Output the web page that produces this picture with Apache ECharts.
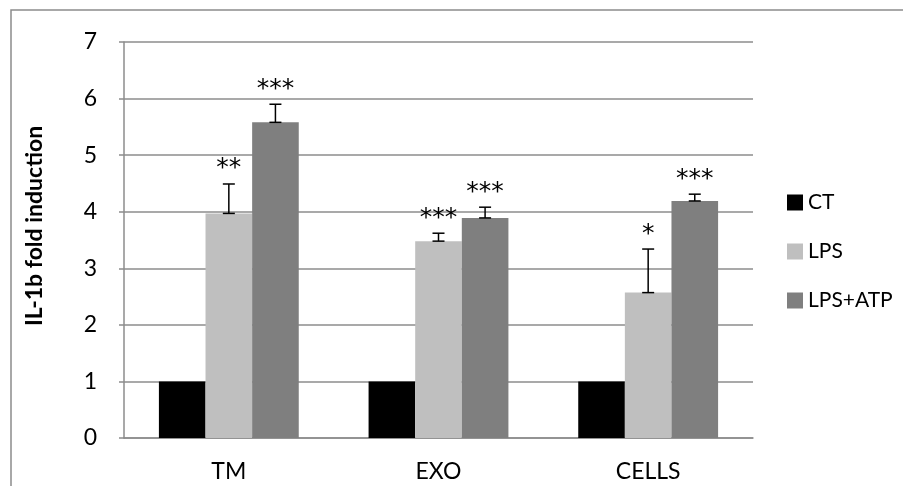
<!DOCTYPE html>
<html>
<head>
<meta charset="utf-8">
<script src="https://cdn.jsdelivr.net/npm/echarts@6/dist/echarts.min.js"></script>
<style>
  html, body { margin: 0; padding: 0; background: #fff; }
  #chart { width: 903px; height: 486px; }
</style>
</head>
<body>
<div id="chart"></div>
<script>
  // values
  const categories = ['TM', 'EXO', 'CELLS'];
  const ct = [1, 1, 1];
  const lps = [3.97, 3.48, 2.57];
  const lpsAtp = [5.58, 3.89, 4.19];
  const lpsErr = [0.52, 0.14, 0.77];
  const lpsAtpErr = [0.32, 0.19, 0.12];
  const lpsStars = ['**', '***', '*'];
  const lpsAtpStars = ['***', '***', '***'];
  const yTicks = [0, 1, 2, 3, 4, 5, 6, 7];

  const font = 'Lato, "Open Sans", sans-serif';
  const gapRatio = 1 / 3;

  const chart = echarts.init(document.getElementById('chart'));

  // error bar (upper side only) + significance stars, offset to match grouped bars
  function errSeries(name, vals, errs, stars, slot) {
    return {
      name: name + ' err',
      type: 'custom',
      z: 5,
      data: vals.map((v, i) => [i, v, v + errs[i], stars[i]]),
      renderItem(params, api) {
        const i = api.value(0);
        const bandW = api.size([1, 0])[0];
        const barW = bandW * (1 - gapRatio) / 3;
        const base = api.coord([i, api.value(1)]);
        const top = api.coord([i, api.value(2)]);
        const x = base[0] + (slot - 1) * barW;
        const cap = 6;
        const st = { stroke: '#000', lineWidth: 1.5 };
        return {
          type: 'group',
          children: [
            { type: 'line', shape: { x1: x, y1: base[1], x2: x, y2: top[1] }, style: st },
            { type: 'line', shape: { x1: x - cap, y1: top[1], x2: x + cap, y2: top[1] }, style: st },
            { type: 'line', shape: { x1: x - cap, y1: base[1], x2: x + cap, y2: base[1] }, style: st },
            {
              type: 'text',
              x: x,
              y: top[1] - 15,
              style: {
                text: api.value(3),
                fontFamily: '"DejaVu Sans", sans-serif',
                fontSize: 25,
                fill: '#000',
                align: 'center',
                verticalAlign: 'middle'
              }
            }
          ]
        };
      }
    };
  }

  chart.setOption({
    animation: false,
    grid: { left: 124, right: 150, top: 42, bottom: 48 },
    legend: {
      orient: 'vertical',
      left: 782,
      top: 187,
      itemWidth: 16,
      itemHeight: 16,
      itemGap: 28,
      icon: 'rect',
      textStyle: { fontFamily: font, fontSize: 21, color: '#000' },
      data: ['CT', 'LPS', 'LPS+ATP']
    },
    graphic: [
      {
        type: 'rect',
        shape: { x: 11, y: 10, width: 1000, height: 1000 },
        style: { fill: 'none', stroke: '#8c8c8c', lineWidth: 1.5 },
        silent: true
      },
      {
        type: 'text',
        x: 35,
        y: 226,
        rotation: Math.PI / 2,
        style: {
          text: 'IL-1b fold induction',
          fontFamily: font,
          fontSize: 23,
          fontWeight: 'bold',
          fill: '#000',
          align: 'center',
          verticalAlign: 'middle'
        }
      }
    ],
    xAxis: {
      type: 'category',
      data: categories,
      axisLine: { lineStyle: { color: '#8c8c8c', width: 1.5 } },
      axisTick: { show: false },
      axisLabel: { fontFamily: font, fontSize: 23, color: '#000', margin: 22 }
    },
    yAxis: {
      type: 'value',
      min: 0,
      max: 7,
      interval: 1,
      axisLine: { show: true, lineStyle: { color: '#8c8c8c', width: 1.5 } },
      axisTick: { show: true, length: 5, lineStyle: { color: '#8c8c8c', width: 1.5 } },
      splitLine: { lineStyle: { color: '#8c8c8c', width: 1.5 } },
      axisLabel: {
        fontFamily: font, fontSize: 23, color: '#000', margin: 27,
        formatter: v => yTicks.includes(v) ? String(v) : ''
      }
    },
    series: [
      { name: 'CT', type: 'bar', data: ct, itemStyle: { color: '#000000' }, barGap: '0%', barCategoryGap: '33.3%' },
      { name: 'LPS', type: 'bar', data: lps, itemStyle: { color: '#bfbfbf' } },
      { name: 'LPS+ATP', type: 'bar', data: lpsAtp, itemStyle: { color: '#7f7f7f' } },
      errSeries('LPS', lps, lpsErr, lpsStars, 1),
      errSeries('LPS+ATP', lpsAtp, lpsAtpErr, lpsAtpStars, 2)
    ]
  });
</script>
</body>
</html>
